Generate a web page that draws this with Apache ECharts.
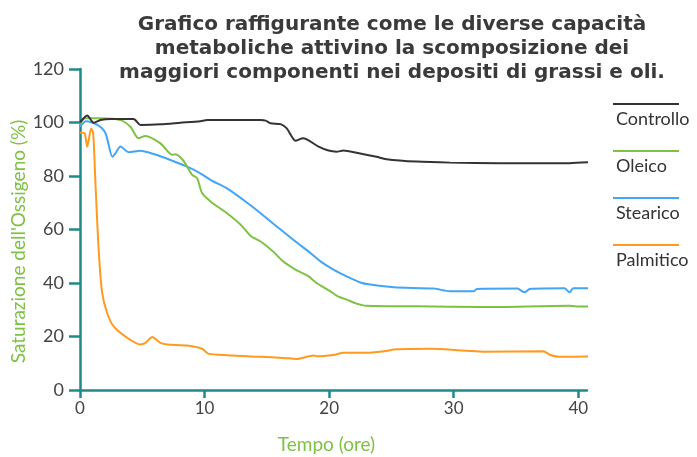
<!DOCTYPE html>
<html>
<head>
<meta charset="utf-8">
<script src="https://cdn.jsdelivr.net/npm/echarts@6/dist/echarts.min.js"></script>
<style>
body { margin: 0; background: #fff; }
#chart { width: 697px; height: 457px; }
</style>
</head>
<body>
<div id="chart"></div>
<script>
// [ore, saturazione %]
const seriesNames = ["Controllo", "Oleico", "Stearico", "Palmitico"];
const seriesColors = ["#333333", "#7dc242", "#42a5f5", "#ff9a1f"];

const controllo = [
  [0, 100], [0.58, 102.6], [1.1, 99.9], [1.64, 100.9], [2.45, 101.3], [4.3, 101.3],
  [4.85, 99.1], [6.46, 99.3], [8.06, 99.9], [9.66, 100.5], [10.2, 100.9], [14.5, 100.9],
  [14.9, 100.7], [15.3, 99.7], [16.1, 99.4], [16.6, 97.8], [17.3, 93.2], [17.9, 94.1],
  [19.15, 91], [19.95, 89.5], [20.6, 89.1], [21.15, 89.5], [22.2, 88.7], [23.8, 87.2],
  [24.6, 86.3], [27.0, 85.4], [29.7, 85], [33.7, 84.8], [39.3, 84.8], [40.8, 85.1]
];
const oleico = [
  [0, 99.5], [0.44, 101.6], [1.64, 101.6], [3.25, 100.9], [4.05, 98.4], [4.7, 94.1],
  [5.25, 95], [6.46, 92.2], [7.4, 87.9], [7.66, 88.1], [8.3, 85.7], [9.0, 80.4],
  [9.4, 79.2], [9.8, 73.6], [10.5, 70.4], [11.8, 66.1], [12.9, 61.8], [13.7, 57.6],
  [14.5, 55.5], [15.5, 51.8], [16.3, 48.1], [17.3, 45], [18.35, 42.5], [19.0, 40],
  [20.1, 36.9], [20.7, 35], [21.4, 33.8], [22.2, 32.3], [23.0, 31.5], [27.0, 31.3],
  [32.4, 31], [39.3, 31.5], [40.1, 31.2], [40.8, 31.2]
];
const stearico = [
  [0, 98.5], [0.5, 100.5], [1.4, 99.1], [2.05, 96], [2.6, 87.2], [2.85, 88.5],
  [3.25, 91], [3.9, 88.9], [4.85, 89.4], [5.9, 88.2], [7.26, 86], [8.6, 83.5],
  [9.66, 81], [10.5, 78.5], [11.8, 75.4], [13.1, 71.1], [14.5, 66.1], [15.8, 61.1],
  [17.3, 55.5], [18.5, 51.2], [19.3, 48.1], [20.35, 45], [21.4, 42.5], [22.5, 40.2],
  [23.3, 39.4], [25.2, 38.4], [28.4, 37.9], [29.7, 36.9], [31.6, 36.9], [31.85, 37.8],
  [35.1, 37.9], [35.7, 36.5], [36.1, 37.8], [38.9, 38], [39.3, 36.5], [39.6, 38], [40.8, 38]
];
const palmitico = [
  [0, 96.2], [0.36, 96], [0.58, 91], [0.7, 93.5], [0.9, 97.8], [1.06, 96],
  [1.24, 77.3], [1.5, 52.4], [1.78, 36.3], [2.18, 28.8], [2.7, 23.8], [3.8, 19.5],
  [4.85, 17], [5.25, 17.6], [5.8, 19.8], [6.46, 17.6], [7.0, 17], [8.6, 16.6],
  [9.8, 15.4], [10.3, 13.6], [11.8, 13], [14.5, 12.4], [16.3, 12], [17.4, 11.6],
  [18.75, 12.9], [19.0, 12.6], [20.35, 13.1], [21.15, 13.9], [23.0, 13.9], [24.4, 14.5],
  [25.4, 15.2], [28.1, 15.4], [31.05, 14.7], [32.4, 14.3], [37.2, 14.5], [37.7, 13.2],
  [38.5, 12.4], [40.8, 12.5]
];
const seriesData = [controllo, oleico, stearico, palmitico];

const axisColor = "#1f8a89";
const nameColor = "#7dc242";
const labelFont = "Lato, 'Noto Sans', sans-serif";

const chart = echarts.init(document.getElementById("chart"));

// legenda a destra: linea sopra, testo sotto
const legendItems = [];
seriesNames.forEach((name, i) => {
  const y = 104 + 47 * i;
  legendItems.push({
    type: "line",
    shape: { x1: 613, y1: y, x2: 679, y2: y },
    style: { stroke: seriesColors[i], lineWidth: 2 }
  });
  legendItems.push({
    type: "text",
    x: 616,
    y: y + 15,
    style: {
      text: name,
      fill: "#333",
      font: "18px " + labelFont,
      textVerticalAlign: "middle"
    }
  });
});

chart.setOption({
  animation: false,
  title: {
    text: "Grafico raffigurante come le diverse capacità\nmetaboliche attivino la scomposizione dei\nmaggiori componenti nei depositi di grassi e oli.",
    left: 387,
    top: 8,
    textAlign: "center",
    textStyle: {
      fontFamily: "'DejaVu Sans', sans-serif",
      fontWeight: "bold",
      fontSize: 20,
      lineHeight: 24,
      color: "#3a3a3a"
    }
  },
  grid: { left: 80, right: 110, top: 69, bottom: 67, outerBoundsMode: "none" },
  xAxis: {
    type: "value",
    min: 0,
    max: 40.7,
    interval: 10,
    name: "Tempo (ore)",
    nameLocation: "middle",
    nameGap: 45,
    nameTextStyle: { color: nameColor, fontSize: 19, fontFamily: labelFont, padding: [0, 14, 0, 0] },
    axisLine: { onZero: false, lineStyle: { color: axisColor, width: 2.5 } },
    axisTick: { length: 8, lineStyle: { color: axisColor, width: 2.5 } },
    axisLabel: {
      color: "#444",
      fontSize: 17,
      fontFamily: labelFont,
      margin: 10,
      showMaxLabel: false,
      formatter: v => (v % 10 === 0 ? String(v) : "")
    },
    splitLine: { show: false }
  },
  yAxis: {
    type: "value",
    min: 0,
    max: 120,
    interval: 20,
    name: "Saturazione dell'Ossigeno (%)",
    nameLocation: "middle",
    nameGap: 52,
    nameMoveOverlap: false,
    nameTextStyle: { color: nameColor, fontSize: 19, fontFamily: labelFont, padding: [0, 24, 0, 0] },
    axisLine: { show: true, onZero: false, lineStyle: { color: axisColor, width: 2.5 } },
    axisTick: { show: true, length: 11, lineStyle: { color: axisColor, width: 2.5 } },
    axisLabel: { color: "#444", fontSize: 18, fontFamily: labelFont, margin: 16 },
    splitLine: { show: false }
  },
  series: seriesNames.map((name, i) => ({
    name: name,
    type: "line",
    data: seriesData[i],
    showSymbol: false,
    smooth: 0.25,
    lineStyle: { color: seriesColors[i], width: 2 },
    itemStyle: { color: seriesColors[i] },
    z: 10 - i
  })),
  graphic: legendItems
});
</script>
</body>
</html>
